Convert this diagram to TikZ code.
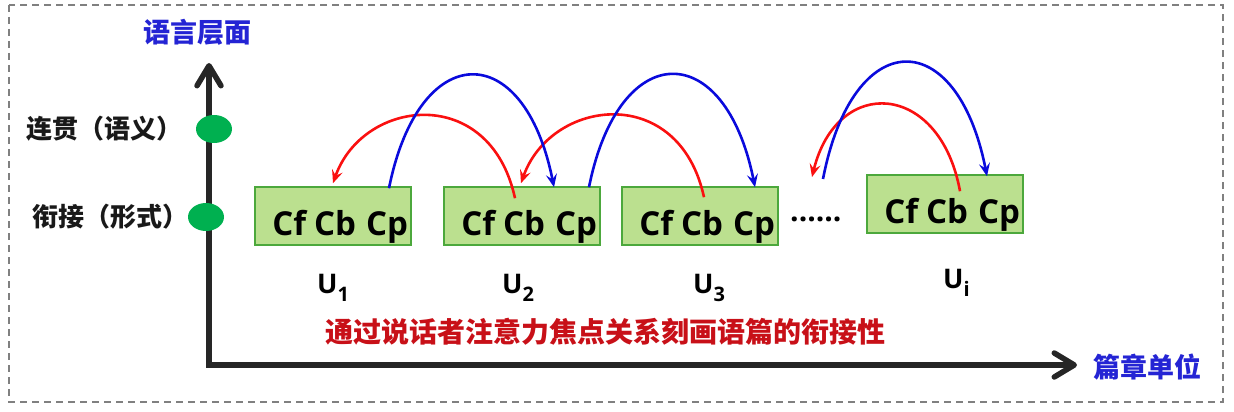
\documentclass[tikz,border=0pt]{standalone}
\usepackage{fontspec}
\setmainfont{Open Sans}
\newfontfamily\cjk{Noto Sans CJK SC}
\usetikzlibrary{arrows.meta,shapes.geometric}
\definecolor{axisgray}{RGB}{38,38,38}
\definecolor{dotgreen}{RGB}{0,176,80}
\definecolor{boxfill}{RGB}{187,224,143}
\definecolor{boxline}{RGB}{76,168,60}
\definecolor{titleblue}{RGB}{36,36,212}
\definecolor{notered}{RGB}{200,16,24}
\definecolor{cpblue}{RGB}{10,10,220}
\definecolor{cbred}{RGB}{250,16,16}
\newcommand\usub[1]{\raisebox{-8pt}{\fontsize{20}{20}\selectfont #1}}

\begin{document}
\begin{tikzpicture}[x=1pt,y=1pt,
  frame/.style={draw=gray,line width=1.4pt,dash pattern=on 7pt off 5pt},
  axisline/.style={draw=axisgray,line width=5.5pt,
    {Straight Barb[length=20pt,width=24pt,line cap=round,line join=round]}-{Straight Barb[length=20pt,width=24pt,line cap=round,line join=round]}},
  axislabel/.style={inner sep=0pt,text=titleblue,font=\cjk\bfseries\fontsize{27}{27}\selectfont},
  levellabel/.style={inner sep=0pt,text=black!90,font=\cjk\bfseries\fontsize{26}{26}\selectfont},
  level/.style={ellipse,fill=dotgreen,minimum width=36pt,minimum height=28pt,inner sep=0pt},
  unit/.style={draw=boxline,line width=1.6pt,fill=boxfill,minimum height=58pt,
    text width=150pt,align=right,inner xsep=3pt,inner ysep=0pt,
    text height=40pt,text depth=2pt,font=\bfseries\fontsize{33}{33}\selectfont},
  ulabel/.style={anchor=base west,inner sep=0pt,font=\bfseries\fontsize{27}{27}\selectfont},
  back/.style={draw=cbred,line width=2.6pt,-{Stealth[length=13pt,width=11pt,inset=5pt]}},
  forth/.style={draw=cpblue,line width=2.6pt,-{Stealth[length=13pt,width=11pt,inset=5pt]}}]
\useasboundingbox (0,0) rectangle (1234,-412);
\draw[frame] (9,-5) rectangle (1223,-402);
% axes
\coordinate (O) at (209,-365);
\coordinate (ytop) at (209,-63);
\coordinate (xend) at (1077,-365);
\draw[axisline] (ytop) -- (O) -- (xend);
\node[axislabel] (ylab) at (197,-32) {语言层面};
\node[axislabel] (xlab) at (1147,-367) {篇章单位};
% levels
\node[level] (coh) at (214,-129) {};
\node[level] (cohes) at (206,-217) {};
\node[levellabel] (cohtxt) at (104,-129) {连贯（语义）};
\node[levellabel] (cohestxt) at (110,-217) {衔接（形式）};
% units
\node[unit] (u1) at (333,-216) {Cf\hspace{8pt}Cb\hspace{10pt}Cp};
\node[unit] (u2) at (522,-216) {Cf\hspace{8pt}Cb\hspace{10pt}Cp};
\node[unit] (u3) at (700,-216) {Cf\hspace{8pt}Cb\hspace{10pt}Cp};
\node[unit] (u4) at (945,-204) {Cf\hspace{8pt}Cb\hspace{10pt}Cp};
\node[anchor=base west,inner sep=0pt,font=\bfseries\fontsize{30}{30}\selectfont] (dots) at (790,-221) {......};
\coordinate (gapin) at (812,-177);
\coordinate (gapout) at (823,-179);
\node[ulabel] (n1) at (317,-293) {U\usub{1}};
\node[ulabel] (n2) at (502,-293) {U\usub{2}};
\node[ulabel] (n3) at (693,-293) {U\usub{3}};
\node[ulabel] (ni) at (943,-288) {U\usub{i}};
\node[inner sep=0pt,text=notered,font=\cjk\bfseries\fontsize{28}{28}\selectfont] (note) at (605,-332) {通过说话者注意力焦点关系刻画语篇的衔接性};
% Cb -> Cf of the unit before
\draw[back] ([xshift=-7pt,yshift=-12pt]u2.north) .. controls +(-25,115) and +(30,85) .. ([yshift=3pt]u1.north);
\draw[back] ([xshift=4pt,yshift=-11pt]u3.north) .. controls +(-25,115) and +(30,85) .. ([xshift=-1pt,yshift=3pt]u2.north);
\draw[back] ([xshift=15pt,yshift=-17pt]u4.north) .. controls +(-20,110) and +(25,102) .. (gapin);
% Cp -> Cb of the unit after
\draw[forth] ([xshift=56pt,yshift=-2pt]u1.north) .. controls +(30,150) and +(-30,150) .. ([xshift=32pt,yshift=-1pt]u2.north);
\draw[forth] ([xshift=67pt,yshift=-1pt]u2.north) .. controls +(30,150) and +(-30,150) .. ([xshift=55pt,yshift=-1pt]u3.north);
\draw[forth] (gapout) .. controls +(30,155) and +(-30,152) .. ([xshift=42pt,yshift=-2pt]u4.north);
\end{tikzpicture}
\end{document}
